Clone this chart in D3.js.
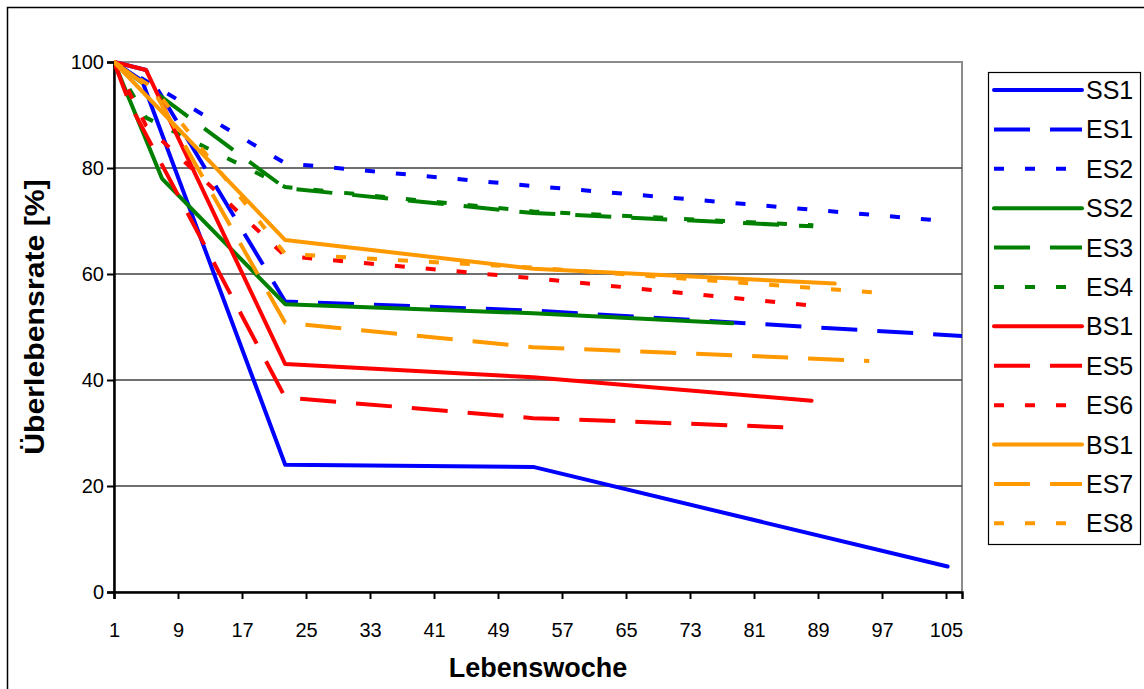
<!DOCTYPE html>
<html><head><meta charset="utf-8">
<script src="https://cdn.jsdelivr.net/npm/d3@7"></script>
<style>body{margin:0;background:#fff}svg{display:block}text{font-family:"Liberation Sans",Arial,sans-serif}</style>
</head><body><svg id="c" width="1144" height="689"></svg>
<script>
// ---- data (week, survival %) ----
const SS1 = [[1,100],[4.5,96.5],[22.4,24.0],[53.4,23.6],[105.2,4.8]];
const ES1 = [[1,100],[5,98.5],[22.4,54.8],[53.4,53.1],[107,48.3]];
const ES2 = [[1,100],[22.4,80.9],[53.4,76.6],[104.9,70.0]];
const SS2 = [[1,100],[7,78.0],[22.4,54.3],[53.4,52.6],[78.3,50.7]];
const ES3 = [[1,100],[22.4,76.2],[53.4,71.5],[88.4,69.0]];
const ES4 = [[1,100],[5,89.5],[22.4,76.4],[53.4,71.8],[88.4,69.2]];
const BS1r = [[1,100],[5,98.5],[22.4,43.0],[53.4,40.5],[88.2,36.1]];
const ES5 = [[1,100],[3,92],[22.4,36.7],[53.4,32.8],[86.5,31.0]];
const ES6 = [[1,100],[5,88],[22.4,63.4],[53.4,59.2],[88.4,54.0]];
const BS1o = [[1,100],[22.4,66.4],[53.4,61.0],[91.1,58.2]];
const ES7 = [[1,100],[6,94.5],[22.4,50.8],[53.4,46.2],[95.4,43.6]];
const ES8 = [[1,100],[6,95],[22.4,63.8],[53.4,61.2],[96.4,56.5]];

const seriesNames = ["SS1","ES1","ES2","SS2","ES3","ES4","BS1","ES5","ES6","BS1","ES7","ES8"];
const seriesData = [SS1,ES1,ES2,SS2,ES3,ES4,BS1r,ES5,ES6,BS1o,ES7,ES8];
const seriesColor = ["#0000FF","#0000FF","#0000FF","#008000","#008000","#008000","#FF0000","#FF0000","#FF0000","#FF9900","#FF9900","#FF9900"];
const seriesStyle = ["solid","dash","dot","solid","dash","dot","solid","dash","dot","solid","dash","dot"];

const xTicks = [1,9,17,25,33,41,49,57,65,73,81,89,97,105];
const yTicks = [0,20,40,60,80,100];
const xTitle = "Lebenswoche";
const yTitle = "Überlebensrate [%]";

// ---- layout ----
const svg = d3.select("#c");
const L = 114, R = 962, T = 62, B = 592;
const x = d3.scaleLinear().domain([1,107]).range([L,R]);
const y = d3.scaleLinear().domain([0,100]).range([B,T]);
const dashOf = s => s==="dash" ? "36,20" : s==="dot" ? "10,21" : null;
const FONT = "'Liberation Sans',Arial,sans-serif";

// outer chart border
svg.append("rect").attr("x",7.5).attr("y",7.5).attr("width",1160).attr("height",700)
  .attr("fill","none").attr("stroke","#000").attr("stroke-width",1.5);

// plot area border
svg.append("rect").attr("x",L).attr("y",T).attr("width",R-L).attr("height",B-T)
  .attr("fill","#fff").attr("stroke","#8c8c8c").attr("stroke-width",2);

// gridlines
svg.append("g").selectAll("line").data(yTicks.filter(d=>d>0&&d<100)).join("line")
  .attr("x1",L).attr("x2",R).attr("y1",d=>y(d)).attr("y2",d=>y(d))
  .attr("stroke","#404040").attr("stroke-width",1.4);

// axes
const yAxis = svg.append("g").attr("transform",`translate(${L},0)`)
  .call(d3.axisLeft(y).tickValues(yTicks).tickSize(7).tickPadding(3));
const xAxis = svg.append("g").attr("transform",`translate(0,${B})`)
  .call(d3.axisBottom(x).tickValues(xTicks).tickSize(7).tickPadding(14));
[yAxis,xAxis].forEach(g=>{
  g.select(".domain").attr("stroke","#000").attr("stroke-width",2.5);
  g.selectAll(".tick line").attr("stroke","#000").attr("stroke-width",2);
  g.selectAll(".tick text").attr("font-size",20).attr("fill","#000").attr("font-family",FONT);
});
xAxis.selectAll(".tick text").attr("dy","1.2em");

// clip
svg.append("clipPath").attr("id","pc").append("rect")
  .attr("x",L).attr("y",T-5).attr("width",R-L).attr("height",B-T+10);

const line = d3.line().x(d=>x(d[0])).y(d=>y(d[1]));
const lines = svg.append("g").attr("clip-path","url(#pc)");
seriesData.forEach((data,i)=>{
  lines.append("path").datum(data).attr("d",line)
    .attr("fill","none").attr("stroke",seriesColor[i]).attr("stroke-width",4)
    .attr("stroke-linejoin","round")
    .attr("stroke-linecap",seriesStyle[i]==="solid"?"round":"butt")
    .attr("stroke-dasharray",dashOf(seriesStyle[i]));
});

// axis titles
svg.append("text").attr("x",538).attr("y",677).attr("text-anchor","middle")
  .attr("font-size",27).attr("font-weight","bold").text(xTitle);
svg.append("text").attr("transform","translate(44,317) rotate(-90) scale(1.12,1)").attr("text-anchor","middle")
  .attr("font-size",27).attr("font-weight","bold").text(yTitle);

// legend
const lg = svg.append("g");
lg.append("rect").attr("x",988.5).attr("y",72.5).attr("width",152).attr("height",472)
  .attr("fill","#fff").attr("stroke","#000").attr("stroke-width",1.2);
const ly = d3.scaleLinear().domain([0,11]).range([90,523.3]);
seriesNames.forEach((n,i)=>{
  lg.append("line").attr("x1",994).attr("x2",1082).attr("y1",ly(i)).attr("y2",ly(i))
    .attr("stroke",seriesColor[i]).attr("stroke-width",4)
    .attr("stroke-linecap",seriesStyle[i]==="solid"?"round":"butt")
    .attr("stroke-dasharray",dashOf(seriesStyle[i]));
  lg.append("text").attr("x",1086).attr("y",ly(i)).attr("dy","0.36em")
    .attr("font-size",25).text(n);
});
</script></body></html>
